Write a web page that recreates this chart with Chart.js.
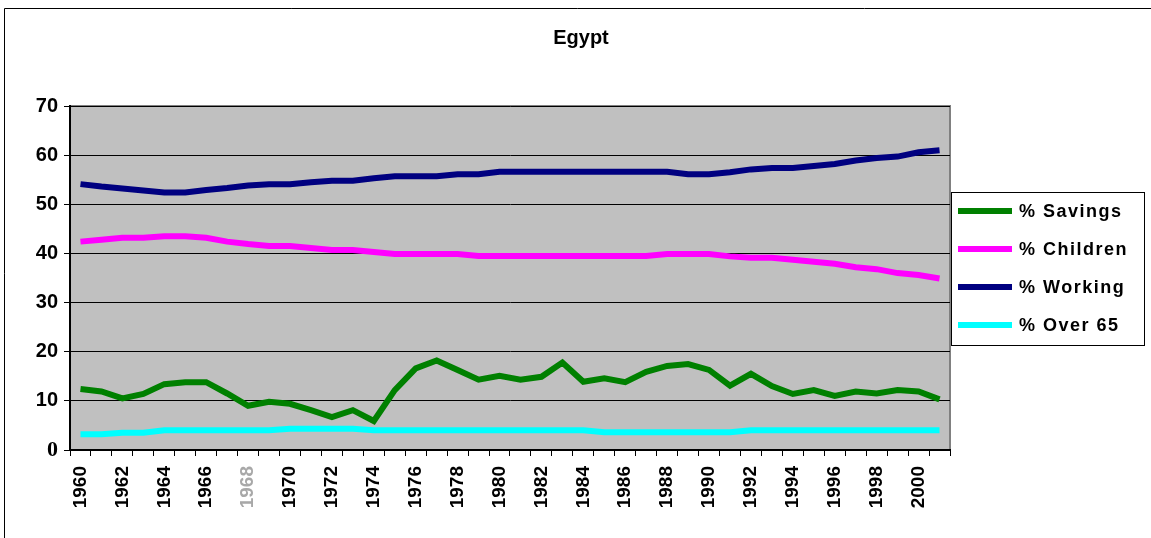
<!DOCTYPE html>
<html>
<head>
<meta charset="utf-8">
<title>Egypt</title>
<script src="https://cdn.jsdelivr.net/npm/chart.js@4.4.1/dist/chart.umd.min.js"></script>
<style>
    html, body { margin: 0; padding: 0; background: #ffffff; }
    #wrap { width: 1151px; height: 538px; position: relative; }
</style>
</head>
<body>
<div id="wrap"><canvas id="chart" width="1151" height="538"></canvas></div>
<script>
// Chart data - Egypt, 1960-2001
const years = [];
for (let y = 1960; y <= 2001; y++) years.push(String(y));

const savings = [12.4, 11.9, 10.5, 11.4, 13.4, 13.8, 13.8, 11.5, 9.0, 9.8,
    9.4, 8.1, 6.7, 8.1, 5.9, 12.2, 16.6, 18.2, 16.3, 14.3,
    15.1, 14.3, 14.9, 17.8, 13.9, 14.6, 13.8, 15.9, 17.1, 17.5,
    16.3, 13.1, 15.5, 13.0, 11.4, 12.2, 11.0, 11.9, 11.5, 12.2,
    11.9, 10.3];

const children = [42.4, 42.8, 43.2, 43.2, 43.5, 43.5, 43.2, 42.4, 41.9, 41.5,
    41.5, 41.1, 40.7, 40.7, 40.3, 39.9, 39.9, 39.9, 39.9, 39.5,
    39.5, 39.5, 39.5, 39.5, 39.5, 39.5, 39.5, 39.5, 39.9, 39.9,
    39.9, 39.4, 39.1, 39.1, 38.7, 38.3, 37.9, 37.2, 36.8, 36.0,
    35.6, 34.9];

const working = [54.1, 53.6, 53.2, 52.8, 52.4, 52.4, 52.9, 53.3, 53.8, 54.1,
    54.1, 54.5, 54.8, 54.8, 55.3, 55.7, 55.7, 55.7, 56.1, 56.1,
    56.6, 56.6, 56.6, 56.6, 56.6, 56.6, 56.6, 56.6, 56.6, 56.1,
    56.1, 56.5, 57.1, 57.4, 57.4, 57.8, 58.2, 58.9, 59.4, 59.7,
    60.6, 61.0];

const over65 = [3.2, 3.2, 3.5, 3.5, 4.0, 4.0, 4.0, 4.0, 4.0, 4.0,
    4.3, 4.3, 4.3, 4.3, 4.0, 4.0, 4.0, 4.0, 4.0, 4.0,
    4.0, 4.0, 4.0, 4.0, 4.0, 3.6, 3.6, 3.6, 3.6, 3.6,
    3.6, 3.6, 4.0, 4.0, 4.0, 4.0, 4.0, 4.0, 4.0, 4.0,
    4.0, 4.0];

const seriesNames = ['% Savings', '% Children', '% Working', '% Over 65'];
const seriesColors = ['#008000', '#ff00ff', '#000080', '#00ffff'];
const yTicks = [0, 10, 20, 30, 40, 50, 60, 70];

const FONT = '"Liberation Sans", Arial, sans-serif';

// Frame, plot background, title and legend box
const excelLook = {
    id: 'excelLook',
    beforeDraw(chart) {
        const ctx = chart.ctx;
        const a = chart.chartArea;
        ctx.save();
        // outer frame (only top and left edges visible)
        ctx.strokeStyle = '#000';
        ctx.lineWidth = 1;
        ctx.beginPath();
        ctx.moveTo(4.5, 538);
        ctx.lineTo(4.5, 8.5);
        ctx.lineTo(1151, 8.5);
        ctx.stroke();
        // grey plot area
        ctx.fillStyle = '#c0c0c0';
        ctx.fillRect(a.left, a.top, a.right - a.left, a.bottom - a.top);
        ctx.strokeStyle = '#808080';
        ctx.lineWidth = 2;
        ctx.strokeRect(a.left, a.top, a.right - a.left, a.bottom - a.top);
        ctx.restore();
    },
    afterDraw(chart) {
        const ctx = chart.ctx;
        ctx.save();
        // title
        ctx.fillStyle = '#000';
        ctx.font = 'bold 20px ' + FONT;
        ctx.textAlign = 'center';
        ctx.textBaseline = 'middle';
        ctx.fillText('Egypt', 581, 38);

        // legend
        const lx = 951.5, ly = 192.5, lw = 193, lh = 153;
        ctx.fillStyle = '#fff';
        ctx.fillRect(lx, ly, lw, lh);
        ctx.strokeStyle = '#000';
        ctx.lineWidth = 1;
        ctx.strokeRect(lx, ly, lw, lh);
        ctx.font = 'bold 18px ' + FONT;
        ctx.textAlign = 'left';
        ctx.textBaseline = 'middle';
        if ('letterSpacing' in ctx) ctx.letterSpacing = '1.5px';
        chart.data.datasets.forEach((ds, i) => {
            const rowY = 211 + i * 38;
            ctx.strokeStyle = ds.borderColor;
            ctx.lineWidth = 6;
            ctx.beginPath();
            ctx.moveTo(958, rowY);
            ctx.lineTo(1012, rowY);
            ctx.stroke();
            ctx.fillStyle = '#000';
            ctx.fillText(ds.label, 1019, rowY + 1);
        });
        ctx.restore();
    }
};

const datasets = [savings, children, working, over65].map((values, i) => ({
    label: seriesNames[i],
    data: values,
    borderColor: seriesColors[i],
    backgroundColor: seriesColors[i],
    borderWidth: 6,
    pointRadius: 0,
    tension: 0,
    fill: false
}));

new Chart(document.getElementById('chart'), {
    type: 'line',
    data: {
        labels: years,
        datasets: datasets
    },
    options: {
        responsive: false,
        animation: false,
        layout: {
            padding: { left: 0, top: 106, right: 201, bottom: 0 }
        },
        plugins: {
            legend: { display: false },
            title: { display: false },
            tooltip: { enabled: false }
        },
        scales: {
            x: {
                type: 'category',
                offset: true,
                afterFit: scale => { scale.height = 88; },
                grid: {
                    offset: true,
                    drawOnChartArea: false,
                    drawTicks: true,
                    tickLength: 6,
                    color: '#000'
                },
                border: { color: '#000', width: 2 },
                ticks: {
                    autoSkip: false,
                    minRotation: 90,
                    maxRotation: 90,
                    padding: 10,
                    color: ctx => (ctx.index === 8 ? '#a8a8a8' : '#000'),
                    font: { family: FONT, size: 19, weight: 'bold' },
                    callback: (v, i) => (i % 2 === 0 ? years[i] : '')
                }
            },
            y: {
                min: 0,
                max: 70,
                afterFit: scale => { scale.width = 70; },
                afterBuildTicks: scale => {
                    scale.ticks = yTicks.map(v => ({ value: v }));
                },
                grid: {
                    color: '#000',
                    lineWidth: 1,
                    tickLength: 6
                },
                border: { color: '#000', width: 2 },
                ticks: {
                    padding: 6,
                    color: '#000',
                    font: ctx => (ctx.tick && ctx.tick.value === 0
                        ? { family: '"Liberation Serif", serif', size: 22, weight: 'bold' }
                        : { family: FONT, size: 20, weight: 'bold' })
                }
            }
        }
    },
    plugins: [excelLook]
});
</script>
</body>
</html>
